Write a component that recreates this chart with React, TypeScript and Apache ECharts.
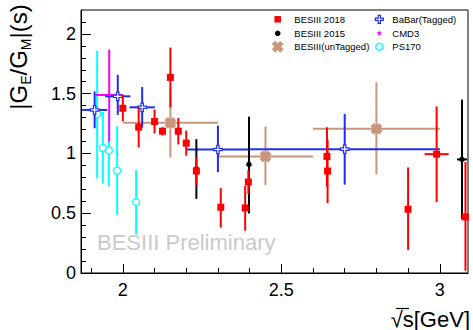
import React, { useEffect, useRef } from 'react';
import * as echarts from 'echarts';

const FONT = '"Liberation Sans", Arial, Helvetica, sans-serif';

// ---------------- data (x, y, x-error, y-error up, y-error down) ----------------
const bes2018X = [2.0, 2.05, 2.1, 2.125, 2.15, 2.175, 2.2, 2.232, 2.309, 2.386, 2.396, 2.644, 2.646, 2.9, 2.99, 3.081];
const bes2018Y = [1.378, 1.22, 1.267, 1.186, 1.636, 1.186, 1.086, 0.853, 0.55, 0.544, 0.761, 0.975, 0.853, 0.533, 0.994, 0.469];
const bes2018XErr = [0, 0, 0, 0, 0, 0, 0, 0, 0, 0, 0, 0, 0, 0, 0.038, 0];
const bes2018ErrUp = [0.115, 0.17, 0.1, 0.035, 0.25, 0.11, 0.105, 0.117, 0.16, 0.185, 0.1, 0.244, 0.26, 0.35, 0.4, 0.46];
const bes2018ErrDown = [0.108, 0.17, 0.1, 0.035, 0.25, 0.11, 0.105, 0.12, 0.17, 0.19, 0.1, 0.255, 0.27, 0.34, 0.4, 0.45];

const bes2015X = [2.232, 2.398, 3.07];
const bes2015Y = [0.87, 0.908, 0.95];
const bes2015XErr = [0, 0, 0.016];
const bes2015ErrUp = [0.25, 0.4, 0.5];
const bes2015ErrDown = [0.25, 0.41, 0.5];

const untagX = [2.15, 2.45, 2.8];
const untagY = [1.256, 0.975, 1.206];
const untagXErr = [0.15, 0.15, 0.2];
const untagErrUp = [0.29, 0.25, 0.39];
const untagErrDown = [0.29, 0.24, 0.38];

const babarX = [1.911, 1.984, 2.061, 2.3, 2.7];
const babarY = [1.364, 1.478, 1.386, 1.033, 1.036];
const babarXErr = [0.04, 0.04, 0.04, 0.1, 0.3];
const babarErrUp = [0.155, 0.18, 0.17, 0.2, 0.295];
const babarErrDown = [0.153, 0.155, 0.17, 0.19, 0.297];

const cmd3X = [1.957];
const cmd3Y = [1.489];
const cmd3XErr = [0.043];
const cmd3ErrUp = [0.38];
const cmd3ErrDown = [0.39];

const ps170X = [1.919, 1.937, 1.956, 1.982, 2.042];
const ps170Y = [1.33, 1.047, 1.025, 0.856, 0.594];
const ps170XErr = [0, 0, 0, 0, 0];
const ps170ErrUp = [0.53, 0.3, 0.32, 0.37, 0.27];
const ps170ErrDown = [0.54, 0.3, 0.3, 0.37, 0.27];

const xMajorTicks = [2, 2.5, 3];
const xMinorTicks = [1.9, 2.0, 2.1, 2.2, 2.3, 2.4, 2.5, 2.6, 2.7, 2.8, 2.9, 3.0];
const yMajorTicks = [0, 0.5, 1, 1.5, 2];
const yMinorTicks = [0.1, 0.2, 0.3, 0.4, 0.6, 0.7, 0.8, 0.9, 1.1, 1.2, 1.3, 1.4, 1.6, 1.7, 1.8, 1.9, 2.1];

const X_MIN = 1.868;
const X_MAX = 3.089;
const Y_MIN = 0;
const Y_MAX = 2.2;

const RED = '#ff0000';
const BLACK = '#000000';
const TAN = '#c8967c';
const BLUE = '#1f2cf2';
const MAGENTA = '#ff00ff';
const CYAN = '#00ffff';

function rows(x: number[], y: number[], xe: number[], eu: number[], ed: number[]) {
  return x.map((v, i) => [v, y[i], xe[i], eu[i], ed[i]]);
}

function plusPoints(w: number, L: number, rotate: boolean, cx: number, cy: number) {
  const pts = [
    [-w, -L], [w, -L], [w, -w], [L, -w], [L, w], [w, w],
    [w, L], [-w, L], [-w, w], [-L, w], [-L, -w], [-w, -w],
  ];
  return pts.map(([px, py]) => {
    if (rotate) {
      const s = Math.SQRT1_2;
      return [cx + (px - py) * s, cy + (px + py) * s];
    }
    return [cx + px, cy + py];
  });
}

function starPoints(cx: number, cy: number, R: number) {
  const pts: number[][] = [];
  for (let i = 0; i < 10; i++) {
    const r = i % 2 === 0 ? R : R * 0.42;
    const a = -Math.PI / 2 + (i * Math.PI) / 5;
    pts.push([cx + r * Math.cos(a), cy + r * Math.sin(a)]);
  }
  return pts;
}

function markerEl(kind: string, cx: number, cy: number, color: string, size: number): any {
  switch (kind) {
    case 'square':
      return { type: 'rect', shape: { x: cx - size / 2, y: cy - size / 2, width: size, height: size }, style: { fill: color } };
    case 'dot':
      return { type: 'circle', shape: { cx, cy, r: size / 2 }, style: { fill: color } };
    case 'ocircle':
      return { type: 'circle', shape: { cx, cy, r: size / 2 }, style: { fill: '#ffffff', stroke: color, lineWidth: 1.3 } };
    case 'ocross':
      return { type: 'polygon', shape: { points: plusPoints(size * 0.14, size / 2, false, cx, cy) }, style: { fill: '#ffffff', stroke: color, lineWidth: 1.2 } };
    case 'xcross':
      return { type: 'polygon', shape: { points: plusPoints(size * 0.2, size / 2, true, cx, cy) }, style: { fill: color } };
    case 'star':
    default:
      return { type: 'polygon', shape: { points: starPoints(cx, cy, size / 2) }, style: { fill: color } };
  }
}

function makeSeries(name: string, data: number[][], color: string, kind: string, size: number) {
  return {
    type: 'custom',
    name,
    silent: true,
    xAxisIndex: 0,
    yAxisIndex: 0,
    encode: { x: 0, y: 1 },
    data,
    renderItem: (_params: any, api: any) => {
      const x = api.value(0);
      const y = api.value(1);
      const xe = api.value(2);
      const eu = api.value(3);
      const ed = api.value(4);
      const c = api.coord([x, y]);
      const children: any[] = [];
      const ls = { stroke: color, lineWidth: 2 };
      if (xe > 0) {
        const l = api.coord([x - xe, y]);
        const r = api.coord([x + xe, y]);
        children.push({ type: 'line', shape: { x1: l[0], y1: c[1], x2: r[0], y2: c[1] }, style: ls });
      }
      const t = api.coord([x, y + eu]);
      const b = api.coord([x, y - ed]);
      children.push({ type: 'line', shape: { x1: c[0], y1: t[1], x2: c[0], y2: b[1] }, style: ls });
      children.push(markerEl(kind, c[0], c[1], color, size));
      return { type: 'group', children };
    },
  };
}

const legendItems = [
  { name: 'BESIII 2018', kind: 'square', color: RED, size: 6.5, x: 277.7, y: 19.3 },
  { name: 'BESIII 2015', kind: 'dot', color: BLACK, size: 5.5, x: 277.7, y: 33.3 },
  { name: 'BESIII(unTagged)', kind: 'xcross', color: TAN, size: 12, x: 277.7, y: 46.7 },
  { name: 'BaBar(Tagged)', kind: 'ocross', color: BLUE, size: 8, x: 379.3, y: 19.3 },
  { name: 'CMD3', kind: 'star', color: MAGENTA, size: 6, x: 379.3, y: 33.3 },
  { name: 'PS170', kind: 'ocircle', color: CYAN, size: 7, x: 379.3, y: 46.7 },
];

export default function App() {
  const ref = useRef<HTMLDivElement>(null);
  useEffect(() => {
    if (!ref.current) return;
    const chart = echarts.init(ref.current, undefined, { renderer: 'svg' });

    const axisBase = {
      type: 'value',
      splitLine: { show: false },
      axisLine: { show: true, lineStyle: { color: '#000', width: 1 } },
    };

    const graphics: any[] = [];
    legendItems.forEach((it) => {
      graphics.push(markerEl(it.kind, it.x, it.y, it.color, it.size));
      graphics.push({
        type: 'text',
        x: it.x + 14.6 + (it.x > 300 ? -1.6 : 2),
        y: it.y,
        style: { text: it.name, fontSize: 9.5, fontFamily: FONT, fill: '#000', align: 'left', verticalAlign: 'middle' },
      });
    });
    graphics.push({
      type: 'text',
      x: 97,
      y: 242,
      style: { text: 'BESIII Preliminary', fontSize: 22, fontFamily: FONT, fill: '#cacaca', align: 'left', verticalAlign: 'middle' },
    });
    graphics.push({
      type: 'text',
      x: 470,
      y: 319,
      style: { text: '√s[GeV]', fontSize: 22, fontFamily: FONT, fill: '#000', align: 'right', verticalAlign: 'middle' },
    });
    graphics.push({
      type: 'line',
      shape: { x1: 396, y1: 308.5, x2: 409, y2: 308.5 },
      style: { stroke: '#000', lineWidth: 1.2 },
    });
    graphics.push({
      type: 'text',
      x: 18,
      y: 57,
      rotation: Math.PI / 2,
      style: {
        text: '{m||G}{s|E}{m|/G}{s|M}{m||(s)}',
        align: 'center',
        verticalAlign: 'middle',
        fill: '#000',
        rich: {
          m: { fontSize: 24, fontFamily: FONT, lineHeight: 30, fill: '#000' },
          s: { fontSize: 14, fontFamily: FONT, lineHeight: 14, verticalAlign: 'bottom', fill: '#000' },
        },
      },
    });

    chart.setOption({
      animation: false,
      backgroundColor: '#ffffff',
      grid: {
        left: 81,
        top: 10,
        width: 387,
        height: 263,
        show: true,
        borderColor: '#000',
        borderWidth: 1,
        backgroundColor: 'transparent',
      },
      xAxis: [
        {
          ...axisBase,
          position: 'bottom',
          min: X_MIN,
          max: X_MAX,
          axisTick: { show: true, inside: true, length: 9, customValues: xMajorTicks, lineStyle: { color: '#000' } },
          axisLabel: { show: true, customValues: xMajorTicks, fontSize: 18, fontFamily: FONT, color: '#000', margin: 8 },
        },
        {
          ...axisBase,
          position: 'bottom',
          min: X_MIN,
          max: X_MAX,
          axisLine: { show: false },
          axisTick: { show: true, inside: true, length: 5, customValues: xMinorTicks, lineStyle: { color: '#000' } },
          axisLabel: { show: false },
        },
      ],
      yAxis: [
        {
          ...axisBase,
          position: 'left',
          min: Y_MIN,
          max: Y_MAX,
          axisTick: { show: true, inside: true, length: 10, customValues: yMajorTicks, lineStyle: { color: '#000' } },
          axisLabel: { show: true, customValues: yMajorTicks, fontSize: 18, fontFamily: FONT, color: '#000', margin: 5 },
        },
        {
          ...axisBase,
          position: 'left',
          min: Y_MIN,
          max: Y_MAX,
          axisLine: { show: false },
          axisTick: { show: true, inside: true, length: 5, customValues: yMinorTicks, lineStyle: { color: '#000' } },
          axisLabel: { show: false },
        },
      ],
      series: [
        makeSeries('BESIII(unTagged)', rows(untagX, untagY, untagXErr, untagErrUp, untagErrDown), TAN, 'xcross', 12),
        makeSeries('PS170', rows(ps170X, ps170Y, ps170XErr, ps170ErrUp, ps170ErrDown), CYAN, 'ocircle', 7),
        makeSeries('CMD3', rows(cmd3X, cmd3Y, cmd3XErr, cmd3ErrUp, cmd3ErrDown), MAGENTA, 'star', 6),
        makeSeries('BaBar(Tagged)', rows(babarX, babarY, babarXErr, babarErrUp, babarErrDown), BLUE, 'ocross', 8.5),
        makeSeries('BESIII 2015', rows(bes2015X, bes2015Y, bes2015XErr, bes2015ErrUp, bes2015ErrDown), BLACK, 'dot', 5.5),
        makeSeries('BESIII 2018', rows(bes2018X, bes2018Y, bes2018XErr, bes2018ErrUp, bes2018ErrDown), RED, 'square', 7),
      ],
      graphic: graphics,
    });
    return () => chart.dispose();
  }, []);
  return <div ref={ref} style={{ width: 473, height: 330, position: 'absolute', left: 0, top: 0 }} />;
}
